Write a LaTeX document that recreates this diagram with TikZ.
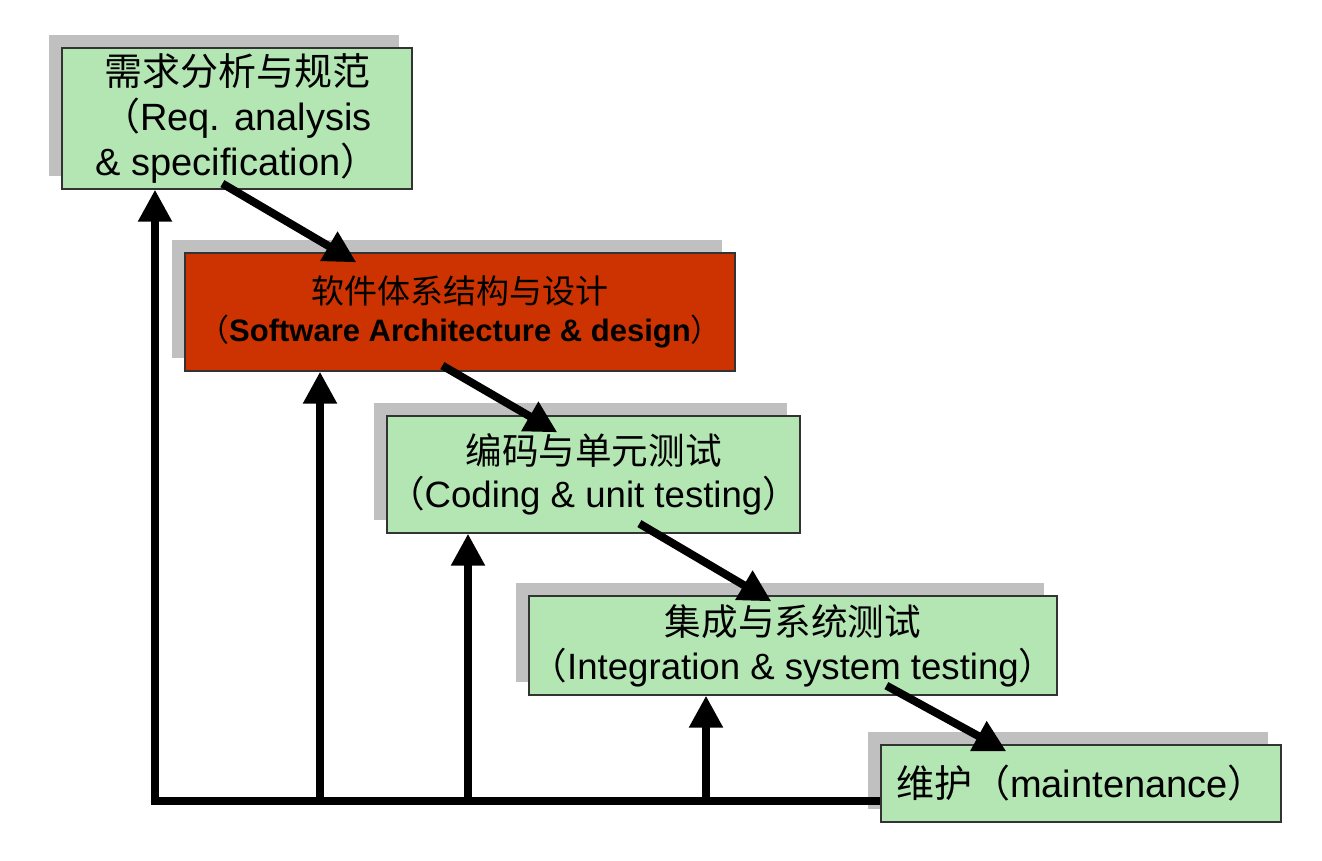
\documentclass[tikz,border=0pt]{standalone}
\usepackage{fontspec}
\setmainfont{Liberation Sans}
\newfontfamily\cjk{Noto Sans CJK SC}
\usepackage{xcolor}
\usetikzlibrary{arrows.meta,shadows,calc}
\definecolor{stagegreen}{RGB}{180,230,180}
\definecolor{stagered}{RGB}{204,51,0}
\definecolor{shadowgray}{RGB}{192,192,192}
\newcommand{\zlp}{{\cjk （}}
\newcommand{\zrp}{{\cjk ）}}

\begin{document}
\begin{tikzpicture}[x=0.5pt,y=-0.5pt,
    stage/.style={draw=black!80, line width=0.6pt, fill=stagegreen, align=center, inner sep=0pt,
      font=\fontsize{19}{22.5}\selectfont,
      drop shadow={shadow xshift=-6.5pt, shadow yshift=6.5pt, fill=shadowgray, opacity=1}},
    flow/.style={line width=4pt, -{Triangle[length=16pt,width=16pt]}}]
    \useasboundingbox (0,0) rectangle (1322,861);

    % 各阶段
    \node[stage, minimum width=175pt, minimum height=70.5pt] (req) at (237,118.5)
        {{\cjk 需求分析与规范}\\\zlp Req. analysis\\\& specification\zrp};
    \node[stage, fill=stagered, minimum width=275pt, minimum height=59pt,
        font=\fontsize{16.5}{19}\selectfont] (arch) at (460,312)
        {{\cjk 软件体系结构与设计}\\{\fontsize{15.5}{19}\selectfont\zlp\textbf{Software Architecture \& design}\zrp}};
    \node[stage, minimum width=206.5pt, minimum height=58.5pt,
        font=\fontsize{18.3}{21.5}\selectfont] (code) at (593.5,474.5)
        {{\cjk 编码与单元测试}\\\zlp Coding \& unit testing\zrp};
    \node[stage, minimum width=264pt, minimum height=49.5pt,
        font=\fontsize{18.3}{22}\selectfont] (integ) at (793,645.5)
        {{\cjk 集成与系统测试}\\\zlp Integration \& system testing\zrp};
    \node[stage, minimum width=200pt, minimum height=38.5pt] (maint) at (1081,783.5)
        {{\cjk 维护}\zlp maintenance\zrp};

    % 瀑布箭头
    \draw[flow] ($(req.south west)+(161,-6)$) -- ($(arch.north west)+(172,10)$);
    \draw[flow] ($(arch.south west)+(258,-6)$) -- ($(code.north west)+(171,17)$);
    \draw[flow] ($(code.south west)+(253,-10)$) -- ($(integ.north west)+(243,6)$);
    \draw[flow] ($(integ.south west)+(358,-10)$) -- ($(maint.north west)+(126,7)$);

    % 反馈
    \coordinate (base) at (155,801);
    \draw[line width=4pt] (base) -- (base -| maint.west);
    \draw[flow] ($(base)+(0,4)$) -- (base |- req.south);
    \foreach \x/\tgt in {320/arch, 468/code, 706/integ} {
        \coordinate (fb) at (\x,801);
        \draw[flow] (fb) -- (fb |- \tgt.south);
    }
\end{tikzpicture}
\end{document}
